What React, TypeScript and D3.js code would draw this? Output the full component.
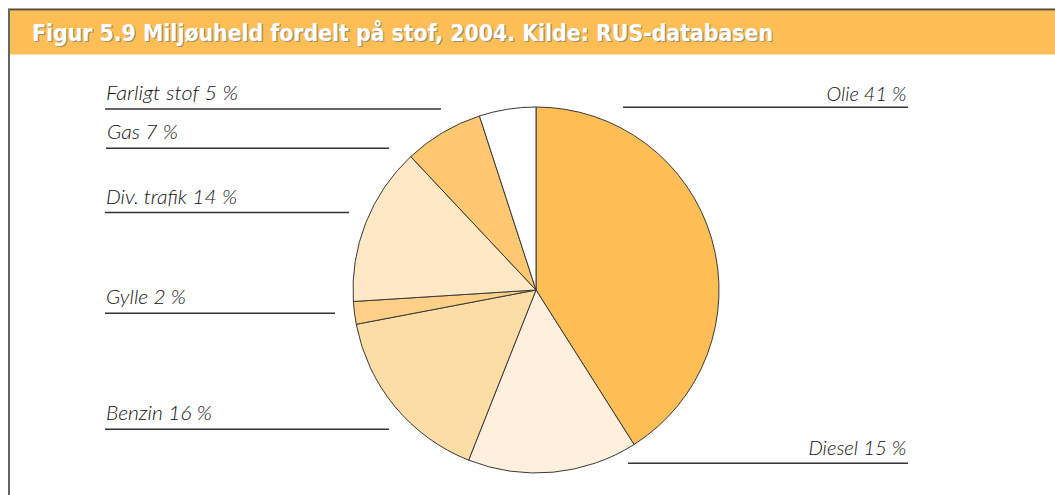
import React from "react";
import * as d3 from "d3";

const categories = ["Olie", "Diesel", "Benzin", "Gylle", "Div. trafik", "Gas", "Farligt stof"];
const values = [41, 15, 16, 2, 14, 7, 5];
const colors = ["#FDBE55", "#FEF0DC", "#FDDDA6", "#FDD088", "#FEE8C6", "#FDC870", "#FFFFFF"];
const title = "Figur 5.9 Miljøuheld fordelt på stof, 2004. Kilde: RUS-databasen";

// label layout: anchor side, text baseline, underline y, line x-range, text width
const labelLayout = [
  { side: "right", ty: 101, ly: 107.3, x1: 623, x2: 908, tw: 80 },
  { side: "right", ty: 455, ly: 463.3, x1: 628, x2: 908, tw: 98 },
  { side: "left", ty: 420, ly: 429.3, x1: 105, x2: 389, tw: 106 },
  { side: "left", ty: 304, ly: 313.3, x1: 105, x2: 335, tw: 80 },
  { side: "left", ty: 203.5, ly: 212.5, x1: 105, x2: 349, tw: 131 },
  { side: "left", ty: 138.5, ly: 148.3, x1: 106, x2: 389, tw: 71 },
  { side: "left", ty: 100, ly: 109, x1: 105, x2: 441, tw: 132 },
];

export default function App() {
  const W = 1055, H = 495;
  const cx = 536, cy = 290, r = 183;
  const data = categories.map((c, i) => ({ name: c, value: values[i], color: colors[i] }));
  const pie = d3.pie<any>().value((d) => d.value).sort(null).startAngle(0).endAngle(2 * Math.PI);
  const arcs = pie(data);
  const arc = d3.arc<any>().innerRadius(0).outerRadius(r);
  const labelFont = "Lato, 'Open Sans', 'DejaVu Sans', sans-serif";
  const titleFont = "'DejaVu Sans Condensed', 'DejaVu Sans', sans-serif";

  return (
    <svg width={W} height={H} style={{ position: "absolute", left: 0, top: 0, background: "#fff" }}>
      {/* header */}
      <rect x={9} y={10.5} width={W - 9} height={44} fill="#FDBE55" />
      <line x1={8} x2={W} y1={9.5} y2={9.5} stroke="#5c4a2e" strokeWidth={2} />
      <line x1={9} x2={9} y1={9} y2={H} stroke="#666" strokeWidth={2} />
      <text x={33.2} y={42} fill="#a09070" fontFamily={titleFont} fontWeight="bold" fontSize={23.5} textLength={741} lengthAdjust="spacingAndGlyphs">
        {title}
      </text>
      <text x={32} y={40.8} fill="#ffffff" fontFamily={titleFont} fontWeight="bold" fontSize={23.5} textLength={741} lengthAdjust="spacingAndGlyphs">
        {title}
      </text>

      {/* pie */}
      <g transform={`translate(${cx},${cy})`}>
        {arcs.map((a, i) => (
          <path key={i} d={arc(a) as string} fill={a.data.color} stroke="#3a3a3a" strokeWidth={1} strokeLinejoin="round" />
        ))}
      </g>

      {/* labels */}
      {data.map((d, i) => {
        const L = labelLayout[i];
        const right = L.side === "right";
        return (
          <g key={d.name}>
            <line x1={L.x1} x2={L.x2} y1={L.ly} y2={L.ly} stroke="#333" strokeWidth={1.6} />
            <text
              x={right ? L.x2 - 1.5 - L.tw : L.x1 + 1}
              y={L.ty}
              fill="#111"
              fontFamily={labelFont}
              fontStyle="italic"
              fontWeight={300}
              fontSize={20}
              textLength={L.tw}
              lengthAdjust="spacingAndGlyphs"
            >
              {`${d.name} ${d.value} %`}
            </text>
          </g>
        );
      })}
    </svg>
  );
}
